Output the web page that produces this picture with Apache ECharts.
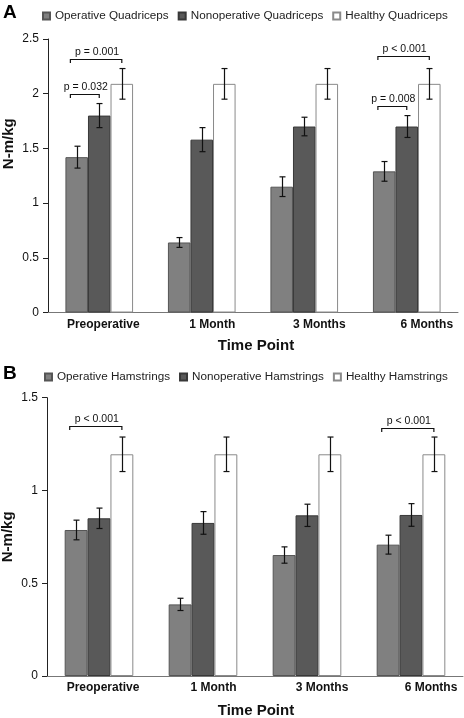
<!DOCTYPE html>
<html>
<head>
<meta charset="utf-8">
<script src="https://cdn.jsdelivr.net/npm/echarts@6/dist/echarts.min.js"></script>
<style>
html,body{margin:0;padding:0;background:#fff;}
#chart{width:464px;height:718px;}
</style>
</head>
<body>
<div id="chart"></div>
<script>
var categories = ['Preoperative', '1 Month', '3 Months', '6 Months'];

var namesA = ['Operative Quadriceps', 'Nonoperative Quadriceps', 'Healthy Quadriceps'];
var opQuad = [1.42, 0.64, 1.15, 1.29];
var opQuadErr = [0.10, 0.045, 0.09, 0.09];
var nonopQuad = [1.80, 1.58, 1.70, 1.70];
var nonopQuadErr = [0.11, 0.11, 0.085, 0.10];
var healthyQuad = [2.09, 2.09, 2.09, 2.09];
var healthyQuadErr = [0.14, 0.14, 0.14, 0.14];

var namesB = ['Operative Hamstrings', 'Nonoperative Hamstrings', 'Healthy Hamstrings'];
var opHam = [0.787, 0.386, 0.652, 0.708];
var opHamErr = [0.053, 0.033, 0.044, 0.051];
var nonopHam = [0.85, 0.825, 0.866, 0.868];
var nonopHamErr = [0.055, 0.061, 0.06, 0.061];
var healthyHam = [1.195, 1.195, 1.195, 1.195];
var healthyHamErr = [0.093, 0.093, 0.093, 0.093];

var yTicksA = [0, 0.5, 1, 1.5, 2, 2.5];
var yTicksB = [0, 0.5, 1, 1.5];

// [category index, from series, to series, bracket level (N-m/kg), label]
var bracketsA = [
  [0, 0, 2, 2.318, 'p = 0.001'],
  [0, 0, 1, 1.998, 'p = 0.032'],
  [3, 0, 2, 2.342, 'p < 0.001'],
  [3, 0, 1, 1.888, 'p = 0.008']
];
var bracketsB = [
  [0, 0, 2, 1.349, 'p < 0.001'],
  [3, 0, 2, 1.335, 'p < 0.001']
];

var FONT = "'Liberation Sans', Arial, Helvetica, sans-serif";
var GAP = 0.34;
var fills = ['#808080', '#595959', '#ffffff'];
var borders = ['#555555', '#383838', '#8a8a8a'];
// horizontal nudge (px, left padding) of each category label, as in the original figure
var labelPad = [8, 21, 30, 40];

function errData(means, errs) {
  var out = [];
  for (var s = 0; s < means.length; s++) {
    for (var i = 0; i < means[s].length; i++) {
      out.push([i, s, means[s][i] - errs[s][i], means[s][i] + errs[s][i]]);
    }
  }
  return out;
}

function barCenter(api, cat, s, yv) {
  var c = api.coord([cat, yv]);
  var band = api.size([1, 0])[0];
  var bw = band * (1 - GAP) / 3;
  return [c[0] + (s - 1) * bw, c[1], bw];
}

function errSeries(ax, means, errs) {
  return {
    type: 'custom', xAxisIndex: ax, yAxisIndex: ax, z: 5,
    data: errData(means, errs),
    encode: {x: 0, y: [2, 3]},
    renderItem: function (params, api) {
      var cat = api.value(0), s = api.value(1);
      var lo = barCenter(api, cat, s, api.value(2));
      var hi = barCenter(api, cat, s, api.value(3));
      var x = Math.round(lo[0]) + 0.5, y1 = lo[1], y2 = hi[1];
      var cap = 3;
      var st = {stroke: '#111', lineWidth: 1.2, fill: null};
      return {type: 'group', children: [
        {type: 'line', shape: {x1: x, y1: y1, x2: x, y2: y2}, style: st},
        {type: 'line', shape: {x1: x - cap, y1: y1, x2: x + cap, y2: y1}, style: st},
        {type: 'line', shape: {x1: x - cap, y1: y2, x2: x + cap, y2: y2}, style: st}
      ]};
    }
  };
}

function bracketSeries(ax, list) {
  return {
    type: 'custom', xAxisIndex: ax, yAxisIndex: ax, z: 6,
    data: list.map(function (b) { return [b[0], b[1], b[2], b[3]]; }),
    encode: {x: 0, y: 3},
    renderItem: function (params, api) {
      var b = list[params.dataIndex];
      var a = barCenter(api, b[0], b[1], b[3]);
      var c = barCenter(api, b[0], b[2], b[3]);
      var x1 = a[0] - a[2] * 0.28, x2 = c[0];
      var y = Math.round(a[1]) + 0.5;
      var st = {stroke: '#111', lineWidth: 1.2, fill: null};
      return {type: 'group', children: [
        {type: 'polyline', shape: {points: [[x1, y + 3.5], [x1, y], [x2, y], [x2, y + 3.5]]}, style: st},
        {type: 'text', style: {text: b[4], x: (x1 + x2) / 2 + 1, y: y - 1.5, align: 'center', verticalAlign: 'bottom',
          font: '10.5px ' + FONT, fill: '#111'}}
      ]};
    }
  };
}

function barSeries(ax, names, means) {
  return means.map(function (m, s) {
    return {
      name: names[s], type: 'bar', xAxisIndex: ax, yAxisIndex: ax,
      data: m, barGap: 0, barCategoryGap: (GAP * 100) + '%',
      itemStyle: {color: fills[s], borderColor: borders[s], borderWidth: 1},
      emphasis: {disabled: true}
    };
  });
}

var labelRich = {};
labelPad.forEach(function (p, i) {
  labelRich['c' + i] = {fontFamily: FONT, fontWeight: 'bold', fontSize: 12, color: '#111', padding: [0, 0, 0, p]};
});

function xAxisCfg(idx) {
  return {
    type: 'category', gridIndex: idx, data: categories,
    axisLine: {lineStyle: {color: '#777', width: 1}},
    axisTick: {show: false},
    axisLabel: {
      interval: 0, hideOverlap: false,
      fontFamily: FONT, fontWeight: 'bold', fontSize: 12, color: '#111', margin: 6,
      formatter: function (v, i) { return '{c' + i + '|' + v + '}'; },
      rich: labelRich
    },
    name: 'Time Point', nameLocation: 'middle', nameGap: idx === 0 ? 26 : 27.5, nameMoveOverlap: false,
    nameTextStyle: {fontFamily: FONT, fontWeight: 'bold', fontSize: 15, color: '#111', padding: [0, 0, 0, idx === 0 ? 6 : 2]}
  };
}

function yAxisCfg(idx, ticks) {
  return {
    type: 'value', gridIndex: idx, min: ticks[0], max: ticks[ticks.length - 1],
    interval: ticks[1] - ticks[0],
    axisLine: {show: true, lineStyle: {color: '#222', width: 1}},
    axisTick: {show: true, length: 5, lineStyle: {color: '#222'}},
    splitLine: {show: false},
    axisLabel: {fontFamily: FONT, fontSize: 12, color: '#111', margin: 9},
    name: 'N-m/kg', nameLocation: 'middle', nameGap: 32, nameMoveOverlap: false,
    nameTextStyle: {fontFamily: FONT, fontWeight: 'bold', fontSize: 15, color: '#111',
      padding: idx === 0 ? [0, 0, 0, 64] : [0, 0, 0, 0]}
  };
}

var chart = echarts.init(document.getElementById('chart'), null, {renderer: 'canvas'});
var legendText = {fontFamily: FONT, fontSize: 11.7, color: '#222'};
chart.setOption({
  animation: false,
  backgroundColor: '#fff',
  title: [
    {text: 'A', left: 3, top: 3, padding: 0, textStyle: {fontFamily: FONT, fontWeight: 'bold', fontSize: 19, color: '#000'}},
    {text: 'B', left: 3, top: 364, padding: 0, textStyle: {fontFamily: FONT, fontWeight: 'bold', fontSize: 19, color: '#000'}}
  ],
  legend: [
    {data: namesA, left: 42, top: 10, padding: 0, itemWidth: 7, itemHeight: 7, itemGap: 9, icon: 'rect',
      textStyle: legendText, selectedMode: false},
    {data: namesB, left: 44, top: 371, padding: 0, itemWidth: 7, itemHeight: 7, itemGap: 9, icon: 'rect',
      textStyle: legendText, selectedMode: false}
  ],
  grid: [
    {left: 48, right: 6, top: 39, height: 273.5, outerBoundsMode: 'none', containLabel: false},
    {left: 47, right: 1, top: 397.7, height: 278.3, outerBoundsMode: 'none', containLabel: false}
  ],
  xAxis: [xAxisCfg(0), xAxisCfg(1)],
  yAxis: [yAxisCfg(0, yTicksA), yAxisCfg(1, yTicksB)],
  series: [].concat(
    barSeries(0, namesA, [opQuad, nonopQuad, healthyQuad]),
    barSeries(1, namesB, [opHam, nonopHam, healthyHam]),
    [errSeries(0, [opQuad, nonopQuad, healthyQuad], [opQuadErr, nonopQuadErr, healthyQuadErr]),
     errSeries(1, [opHam, nonopHam, healthyHam], [opHamErr, nonopHamErr, healthyHamErr]),
     bracketSeries(0, bracketsA),
     bracketSeries(1, bracketsB)]
  )
});
</script>
</body>
</html>
